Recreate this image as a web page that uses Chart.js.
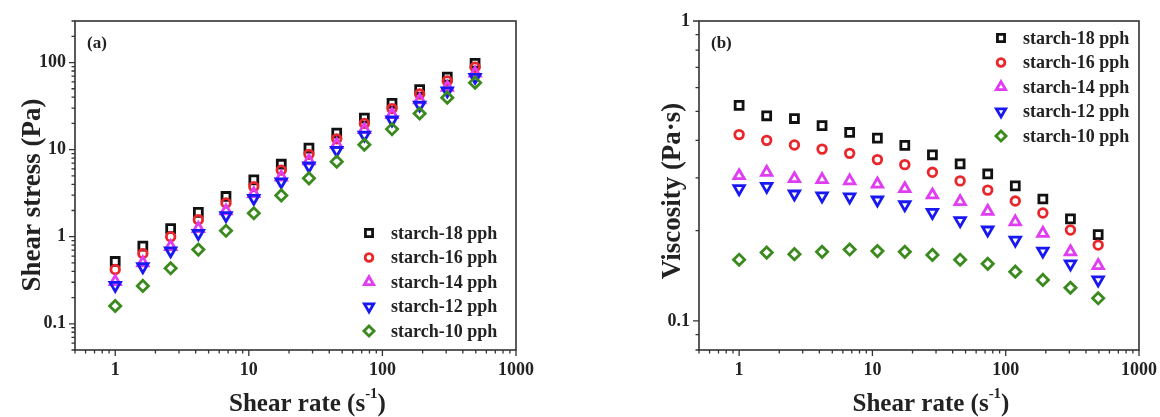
<!DOCTYPE html>
<html>
<head>
<meta charset="utf-8">
<script src="https://cdn.jsdelivr.net/npm/chart.js@4.4.0/dist/chart.umd.min.js"></script>
<style>
  html, body { margin: 0; padding: 0; background: #fff; }
  #wrap { position: relative; width: 1160px; height: 417px; }
  .panel { position: absolute; top: 0; width: 580px; height: 417px; }
</style>
</head>
<body>
<div id="wrap">
  <div class="panel" style="left:0"><canvas id="chart-stress"></canvas></div>
  <div class="panel" style="left:580px"><canvas id="chart-visc"></canvas></div>
</div>
<script>
// shear rate sweep (1/s)
const shearRates = [1, 1.61, 2.6, 4.19, 6.75, 10.9, 17.5, 28.2, 45.5, 73.3, 118, 190, 306, 494];
const seriesNames = ['starch-18 pph', 'starch-16 pph', 'starch-14 pph', 'starch-12 pph', 'starch-10 pph'];

// shear stress (Pa)
const stress18 = [0.52, 0.78, 1.24, 1.9, 2.9, 4.5, 6.8, 10.4, 15.5, 23, 34, 49, 68, 98];
const stress16 = [0.42, 0.64, 1.0, 1.57, 2.44, 3.76, 5.81, 8.83, 13.3, 20.0, 29.6, 43.5, 61.5, 88.4];
const stress14 = [0.305, 0.5, 0.77, 1.24, 1.98, 3.12, 4.83, 7.42, 11.4, 17.0, 25.3, 37.2, 52.0, 75.6];
const stress12 = [0.276, 0.452, 0.689, 1.09, 1.75, 2.76, 4.27, 6.49, 9.83, 14.7, 21.9, 32.5, 47.4, 67.7];
const stress10 = [0.16, 0.272, 0.434, 0.712, 1.17, 1.86, 2.98, 4.68, 7.28, 11.4, 17.2, 26.0, 39.5, 58.8];

// viscosity (Pa·s)
const visc18 = [0.523, 0.483, 0.473, 0.448, 0.425, 0.407, 0.385, 0.358, 0.334, 0.309, 0.282, 0.255, 0.219, 0.194];
const visc16 = [0.418, 0.400, 0.386, 0.374, 0.362, 0.345, 0.332, 0.313, 0.293, 0.273, 0.251, 0.229, 0.201, 0.179];
const visc14 = [0.305, 0.313, 0.298, 0.296, 0.293, 0.286, 0.276, 0.263, 0.250, 0.232, 0.214, 0.196, 0.170, 0.153];
const visc12 = [0.276, 0.281, 0.265, 0.261, 0.259, 0.253, 0.244, 0.230, 0.216, 0.201, 0.186, 0.171, 0.155, 0.137];
const visc10 = [0.160, 0.169, 0.167, 0.170, 0.173, 0.171, 0.170, 0.166, 0.160, 0.155, 0.146, 0.137, 0.129, 0.119];

// labelled decades on each axis
const rateLabels = [1, 10, 100, 1000];
const stressLabels = [0.1, 1, 10, 100];
const viscLabels = [0.1, 1];

const FONT = '"Liberation Serif", "Times New Roman", serif';
const INK = '#222';

// marker per series: square, circle, up/down triangle, diamond
const markers = [
  { style: 'rect', rot: 0, color: '#111111', r: 5.6 },
  { style: 'circle', rot: 0, color: '#e8262b', r: 4.3 },
  { style: 'triangle', rot: 0, color: '#e03cf2', r: 6 },
  { style: 'triangle', rot: 180, color: '#1818f2', r: 6 },
  { style: 'rectRot', rot: 0, color: '#3b8a1e', r: 5.6 },
];
const MARK_W = 2.8;

function isDecade(v) {
  const e = Math.log10(v);
  return Math.abs(e - Math.round(e)) < 1e-6;
}

// 1..9 x 10^n ticks between min and max
function logTicks(min, max) {
  const out = [];
  for (let e = Math.floor(Math.log10(min)); e <= Math.ceil(Math.log10(max)); e++) {
    for (let m = 1; m < 10; m++) {
      const v = +(m * Math.pow(10, e)).toPrecision(3);
      if (v >= min * 0.999 && v <= max * 1.001) out.push(v);
    }
  }
  return out.map(v => ({ value: v }));
}

// box frame, outward ticks, panel tag, legend and axis titles
const decor = {
  id: 'decor',
  afterDraw(chart, args, o) {
    const { ctx, chartArea: a, scales: { x, y } } = chart;
    ctx.save();
    ctx.strokeStyle = '#333';
    ctx.lineWidth = 1.6;
    ctx.strokeRect(a.left, a.top, a.right - a.left, a.bottom - a.top);
    ctx.lineWidth = 1.3;
    ctx.beginPath();
    x.ticks.forEach(t => {
      const px = x.getPixelForValue(t.value);
      ctx.moveTo(px, a.bottom);
      ctx.lineTo(px, a.bottom + (isDecade(t.value) ? 6 : 3.5));
    });
    y.ticks.forEach(t => {
      const py = y.getPixelForValue(t.value);
      ctx.moveTo(a.left, py);
      ctx.lineTo(a.left - (isDecade(t.value) ? 6 : 3.5), py);
    });
    ctx.stroke();

    ctx.fillStyle = INK;
    ctx.textBaseline = 'alphabetic';
    ctx.font = 'bold 17px ' + FONT;
    ctx.fillText(o.tag, a.left + 12, a.top + 27);

    // legend
    ctx.font = 'bold 18px ' + FONT;
    ctx.textBaseline = 'middle';
    chart.data.datasets.forEach((ds, i) => {
      const ly = o.legendY + i * 24.5;
      ctx.fillStyle = 'rgba(0,0,0,0)';
      ctx.strokeStyle = ds.borderColor;
      ctx.lineWidth = MARK_W;
      Chart.helpers.drawPoint(ctx, {
        pointStyle: ds.pointStyle, rotation: ds.pointRotation,
        radius: ds.pointRadius * 0.9, borderWidth: MARK_W
      }, o.legendX, ly);
      ctx.fillStyle = INK;
      ctx.fillText(ds.label, o.legendX + 22, ly + 1);
    });

    // y axis title, rotated
    ctx.save();
    ctx.translate(o.yTitleX, o.yTitleY);
    ctx.rotate(-Math.PI / 2);
    ctx.font = 'bold 27px ' + FONT;
    ctx.textAlign = 'center';
    ctx.fillText(o.yTitle, 0, 0);
    ctx.restore();

    // x axis title: Shear rate (s^-1)
    ctx.textBaseline = 'alphabetic';
    const big = 'bold 25px ' + FONT, small = 'bold 15px ' + FONT;
    const p1 = 'Shear rate (s', p2 = '-1', p3 = ')';
    ctx.font = big; const w1 = ctx.measureText(p1).width, w3 = ctx.measureText(p3).width;
    ctx.font = small; const w2 = ctx.measureText(p2).width;
    let tx = (a.left + a.right) / 2 + 12 - (w1 + w2 + w3) / 2;
    const ty = 411;
    ctx.font = big; ctx.fillText(p1, tx, ty); tx += w1;
    ctx.font = small; ctx.fillText(p2, tx, ty - 13); tx += w2;
    ctx.font = big; ctx.fillText(p3, tx, ty);
    ctx.restore();
  }
};

function makeChart(id, cfg) {
  const series = cfg.series.map((vals, i) => ({
    label: seriesNames[i],
    data: vals.map((v, k) => ({ x: shearRates[k], y: v })),
    showLine: false,
    pointStyle: markers[i].style,
    pointRotation: markers[i].rot,
    pointRadius: markers[i].r,
    pointHoverRadius: markers[i].r,
    pointBorderWidth: MARK_W,
    borderColor: markers[i].color,
    backgroundColor: 'rgba(0,0,0,0)',
    order: 5 - i
  }));

  const tickFont = { family: FONT, size: 18, weight: 'bold' };
  return new Chart(document.getElementById(id), {
    type: 'scatter',
    data: { datasets: series },
    options: {
      responsive: true, maintainAspectRatio: false, animation: false,
      layout: { padding: { top: 21, right: cfg.padRight, left: 0, bottom: 0 } },
      plugins: {
        legend: { display: false }, tooltip: { enabled: false },
        decor: {
          tag: cfg.tag, legendX: cfg.legendX, legendY: cfg.legendY,
          yTitle: cfg.yTitle, yTitleX: cfg.yTitleX, yTitleY: cfg.yTitleY
        }
      },
      scales: {
        x: {
          type: 'logarithmic', min: 0.5, max: 1000,
          grid: { display: false, drawTicks: false }, border: { display: false },
          afterBuildTicks: s => { s.ticks = logTicks(0.5, 1000); },
          // end labels may hang past the frame
          afterFit: s => { s.height = 67; s.paddingLeft = 0; s.paddingRight = 0; },
          ticks: {
            autoSkip: false, maxRotation: 0, padding: 10, color: INK, font: tickFont,
            callback: v => rateLabels.includes(v) ? String(v) : ''
          }
        },
        y: {
          type: 'logarithmic', min: cfg.yMin, max: cfg.yMax,
          grid: { display: false, drawTicks: false }, border: { display: false },
          afterBuildTicks: s => { s.ticks = logTicks(cfg.yMin, cfg.yMax); },
          afterFit: s => { s.width = cfg.yWidth; s.paddingTop = 0; s.paddingBottom = 0; },
          ticks: {
            autoSkip: false, padding: 9, color: INK, font: tickFont,
            callback: v => cfg.yLabels.includes(v) ? String(v) : ''
          }
        }
      }
    },
    plugins: [decor]
  });
}

makeChart('chart-stress', {
  series: [stress18, stress16, stress14, stress12, stress10],
  yMin: 0.05, yMax: 300, yLabels: stressLabels,
  yTitle: 'Shear stress (Pa)', yTitleX: 33, yTitleY: 195,
  yWidth: 75, padRight: 64, tag: '(a)', legendX: 369, legendY: 233
});

makeChart('chart-visc', {
  series: [visc18, visc16, visc14, visc12, visc10],
  yMin: 0.08, yMax: 1, yLabels: viscLabels,
  yTitle: 'Viscosity (Pa·s)', yTitleX: 93, yTitleY: 191,
  yWidth: 119, padRight: 21, tag: '(b)', legendX: 421, legendY: 38
});
</script>
</body>
</html>
